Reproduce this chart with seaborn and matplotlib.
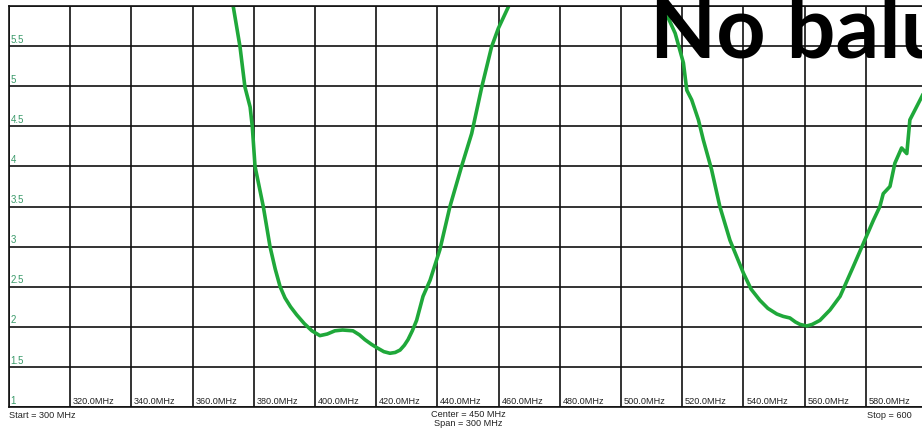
import pandas as pd
import seaborn as sns
import matplotlib.pyplot as plt

# SWR sweep (two visible pieces of the trace)
freq_a = [372.9, 373.3, 375.5, 377.1, 378.8, 379.5, 380.4, 383.1, 385.3, 387.0, 388.6,
          390.2, 392.0, 394.0, 396.5, 399.0, 401.6, 404.0, 406.5, 409.0, 412.4, 414.5,
          416.3, 418.5, 420.2, 422.5, 424.5, 426.2, 427.8, 429.2, 430.4, 431.8, 433.2,
          435.3, 437.6, 440.8, 444.1, 447.9, 451.2, 454.5, 457.7, 459.9, 463.2, 464.0]
swr_a = [6.10, 5.99, 5.49, 4.99, 4.74, 4.50, 4.00, 3.50, 3.00, 2.72, 2.50,
         2.36, 2.25, 2.15, 2.04, 1.95, 1.89, 1.91, 1.95, 1.96, 1.95, 1.90,
         1.84, 1.78, 1.74, 1.69, 1.67, 1.68, 1.71, 1.77, 1.84, 1.95, 2.08,
         2.38, 2.58, 2.96, 3.50, 4.00, 4.41, 4.99, 5.49, 5.72, 5.99, 6.10]

freq_b = [513.3, 513.8, 517.7, 520.4, 521.5, 523.1, 525.3, 526.9, 529.6, 532.3, 535.6,
          540.0, 542.5, 545.4, 548.0, 550.9, 553.0, 555.2, 557.0, 558.5, 560.7, 562.5,
          565.0, 568.3, 571.6, 575.9, 579.2, 582.5, 584.6, 585.7, 587.9, 589.5, 591.7,
          593.4, 594.4, 598.3, 600.0]
swr_b = [6.10, 5.99, 5.66, 5.29, 4.95, 4.83, 4.58, 4.33, 3.96, 3.50, 3.08,
         2.67, 2.47, 2.33, 2.23, 2.16, 2.13, 2.11, 2.06, 2.03, 2.01, 2.03,
         2.08, 2.21, 2.38, 2.75, 3.04, 3.33, 3.50, 3.66, 3.75, 4.04, 4.23,
         4.16, 4.58, 4.87, 5.00]

x_ticks = list(range(300, 601, 20))
x_labels = ["%.1fMHz" % f for f in x_ticks]
y_ticks = [1, 1.5, 2, 2.5, 3, 3.5, 4, 4.5, 5, 5.5, 6]
y_labels = ["1", "1.5", "2", "2.5", "3", "3.5", "4", "4.5", "5", "5.5", "6"]

df = pd.concat([
    pd.DataFrame({"freq": freq_a, "swr": swr_a, "seg": "a"}),
    pd.DataFrame({"freq": freq_b, "swr": swr_b, "seg": "b"}),
])

sns.set_style("white")
plt.rcParams["font.family"] = ["Liberation Sans Narrow", "Liberation Sans", "DejaVu Sans"]

fig = plt.figure(figsize=(9.22, 4.29), dpi=100)
ax = fig.add_axes([9 / 922, 22 / 429, 918 / 922, 401 / 429])

sns.lineplot(data=df, x="freq", y="swr", units="seg", estimator=None,
             color="#1fa83a", linewidth=2.6, ax=ax)

ax.set_xlim(300, 600)
ax.set_ylim(1, 6)
ax.set_xticks(x_ticks)
ax.set_yticks(y_ticks)
ax.set_xticklabels([])
ax.set_yticklabels([])
ax.tick_params(length=0)
ax.set_xlabel("")
ax.set_ylabel("")
ax.grid(True, color="#111111", linewidth=1.2)
for s in ax.spines.values():
    s.set_color("#111111")
    s.set_linewidth(1.2)

# labels drawn inside the grid, like on the instrument screen
for f, lab in zip(x_ticks[1:-1], x_labels[1:-1]):
    ax.annotate(lab, (f, 1), xytext=(2, 1), textcoords="offset points",
                fontsize=6.6, color="#222222", va="bottom", ha="left")
for v, lab in zip(y_ticks[:-1], y_labels[:-1]):
    ax.annotate(lab, (300, v), xytext=(1, 1), textcoords="offset points",
                fontsize=7, color="#3a9a6a", va="bottom", ha="left")

ax.annotate("Start = 300 MHz", (300, 1), xytext=(0, -3), textcoords="offset points",
            fontsize=6.6, color="#222222", va="top", ha="left", annotation_clip=False)
ax.annotate("Center = 450 MHz\nSpan = 300 MHz", (450, 1), xytext=(0, -2),
            textcoords="offset points", fontsize=6.6, color="#222222", va="top",
            ha="center", linespacing=1.0, annotation_clip=False)
ax.annotate("Stop = 600", (580, 1), xytext=(1, -3), textcoords="offset points",
            fontsize=6.6, color="#222222", va="top", ha="left", annotation_clip=False)

fig.text(650 / 922, 1 - 57 / 429, "No balun", fontsize=62, fontweight="bold",
         family=["Lato", "DejaVu Sans"], color="black", va="baseline", ha="left")

fig.savefig("out.png", dpi=100)
